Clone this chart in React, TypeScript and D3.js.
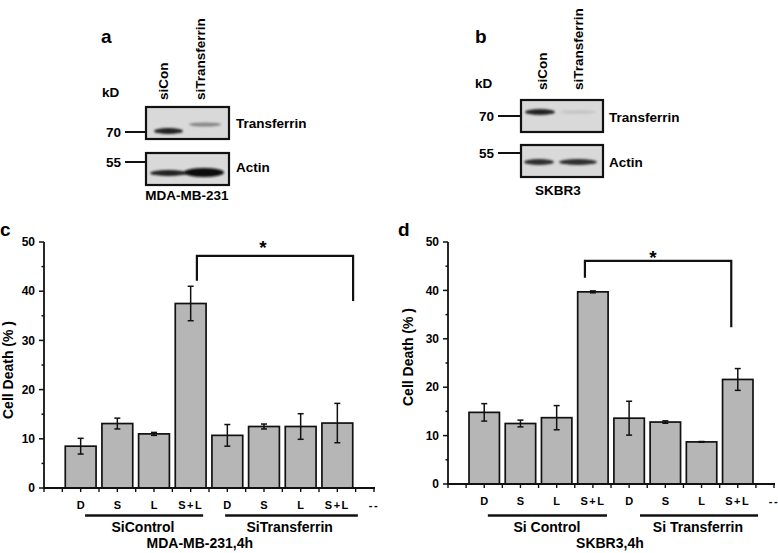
import React from "react";
import * as d3 from "d3";

// ---------- data ----------
const categories = ["D", "S", "L", "S+L", "D", "S", "L", "S+L", "--"];
const yTicks = [0, 10, 20, 30, 40, 50];
const yMinorTicks = [5, 15, 25, 35, 45];

const mdaValues = [8.5, 13.1, 11.0, 37.5, 10.7, 12.5, 12.5, 13.2];
const mdaErrors = [1.6, 1.1, 0.3, 3.5, 2.2, 0.5, 2.6, 4.0];
const skbrValues = [14.8, 12.5, 13.7, 39.7, 13.6, 12.8, 8.7, 21.6];
const skbrErrors = [1.8, 0.7, 2.5, 0.2, 3.5, 0.25, 0.08, 2.25];

const mdaGroups = ["SiControl", "SiTransferrin"];
const skbrGroups = ["Si Control", "Si Transferrin"];

const blotLanes = ["siCon", "siTransferrin"];
const blotProteins = ["Transferrin", "Actin"];
const markerKd = ["70", "55"];
// band intensities (0..1) per lane
const mdaTransferrinBands = [0.92, 0.4];
const mdaActinBands = [0.92, 1.0];
const skbrTransferrinBands = [0.9, 0.07];
const skbrActinBands = [0.85, 0.85];

const FONT = "'Liberation Sans', Arial, Helvetica, sans-serif";

type PanelCfg = {
  letter: string;
  letterX: number;
  x0: number;
  x9: number;
  yBottom: number;
  yTop: number;
  values: number[];
  errors: number[];
  groups: string[];
  groupLines: [number, number][];
  groupLabelX: number[];
  title: string;
  titleX: number;
  bracket: { l: number; r: number; top: number; lb: number; rb: number };
  starX: number;
  starY: number;
  yLabelX: number;
  yLabelY: number;
};

function BarPanel({ cfg }: { cfg: PanelCfg }) {
  const x = d3.scaleLinear().domain([0, 9]).range([cfg.x0, cfg.x9]);
  const y = d3.scaleLinear().domain([0, 50]).range([cfg.yBottom, cfg.yTop]);
  const step = x(1) - x(0);
  const bw = step * 0.84;
  const xTicks = d3.range(0, 9.01, 0.5);
  const b = cfg.bracket;
  return (
    <g fontFamily={FONT} fontWeight="bold">
      <text x={cfg.letterX} y={236} fontSize={19}>
        {cfg.letter}
      </text>
      {/* bars */}
      {cfg.values.map((v, i) => (
        <rect
          key={"b" + i}
          x={x(i + 1) - bw / 2}
          y={y(v)}
          width={bw}
          height={y(0) - y(v)}
          fill="#b6b6b6"
          stroke="#111"
          strokeWidth={1.7}
        />
      ))}
      {/* error bars */}
      {cfg.values.map((v, i) => {
        const e = cfg.errors[i];
        const cx = x(i + 1);
        return (
          <g key={"e" + i} stroke="#111" strokeWidth={1.5}>
            <line x1={cx} x2={cx} y1={y(v + e)} y2={y(v - e)} />
            <line x1={cx - 3} x2={cx + 3} y1={y(v + e)} y2={y(v + e)} />
            <line x1={cx - 3} x2={cx + 3} y1={y(v - e)} y2={y(v - e)} />
          </g>
        );
      })}
      {/* y axis */}
      <line x1={x(0)} x2={x(0)} y1={y(0)} y2={y(50)} stroke="#111" strokeWidth={1.8} />
      {yTicks.map((t) => (
        <g key={"yt" + t}>
          <line x1={x(0) - 5} x2={x(0)} y1={y(t)} y2={y(t)} stroke="#111" strokeWidth={1.5} />
          <text x={x(0) - 9} y={y(t)} dy="0.35em" textAnchor="end" fontSize={12}>
            {t}
          </text>
        </g>
      ))}
      {yMinorTicks.map((t) => (
        <line key={"ym" + t} x1={x(0) - 2.5} x2={x(0)} y1={y(t)} y2={y(t)} stroke="#111" strokeWidth={1.5} />
      ))}
      {/* x axis */}
      <line x1={x(0) - 1} x2={x(9) + 1} y1={y(0)} y2={y(0)} stroke="#111" strokeWidth={1.8} />
      {xTicks.map((t) => (
        <line key={"xt" + t} x1={x(t)} x2={x(t)} y1={y(0)} y2={y(0) + 4} stroke="#111" strokeWidth={1.4} />
      ))}
      {categories.map((c, i) => (
        <text
          key={"c" + i}
          x={x(i + 1)}
          y={y(0) + 21}
          textAnchor="middle"
          fontSize={11}
          letterSpacing={c.length > 1 ? 1.5 : 0}
        >
          {c}
        </text>
      ))}
      {/* group lines & labels */}
      {cfg.groups.map((g, i) => (
        <g key={"g" + i}>
          <line
            x1={x(cfg.groupLines[i][0])}
            x2={x(cfg.groupLines[i][1])}
            y1={515.5}
            y2={515.5}
            stroke="#111"
            strokeWidth={2.4}
          />
          <text x={x(cfg.groupLabelX[i])} y={531.5} textAnchor="middle" fontSize={14}>
            {g}
          </text>
        </g>
      ))}
      <text x={x(cfg.titleX)} y={547.5} textAnchor="middle" fontSize={14}>
        {cfg.title}
      </text>
      {/* y label */}
      <text
        transform={`translate(${cfg.yLabelX},${cfg.yLabelY}) rotate(-90)`}
        textAnchor="middle"
        fontSize={14}
      >
        Cell Death (% )
      </text>
      {/* significance bracket */}
      <path
        d={`M${x(b.l)},${y(b.lb)}V${y(b.top)}H${x(b.r)}V${y(b.rb)}`}
        fill="none"
        stroke="#111"
        strokeWidth={2.2}
      />
      <text x={x(cfg.starX)} y={cfg.starY} textAnchor="middle" fontSize={19}>
        *
      </text>
    </g>
  );
}

type BlotCfg = {
  letter: string;
  letterX: number;
  kdX: number;
  kdY: number;
  laneTextX: number[];
  laneTextY: number;
  boxX: number;
  boxW: number;
  boxY: number[];
  boxH: number;
  markerY: number[];
  markerLineX0: number;
  markerTextX: number;
  labelX: number;
  labelY: number[];
  cell: string;
  cellX: number;
  cellY: number;
  bands: { x: number; w: number; y: number; h: number; v: number }[][];
};

function Blot({ cfg, id }: { cfg: BlotCfg; id: string }) {
  const grey = d3.scaleLinear<string>().domain([0, 1]).range(["#d4d4d4", "#101010"]);
  return (
    <g fontFamily={FONT} fontWeight="bold">
      <defs>
        <filter id={"blur" + id} x="-20%" y="-100%" width="140%" height="300%">
          <feGaussianBlur stdDeviation="1.3" />
        </filter>
      </defs>
      <text x={cfg.letterX} y={43} fontSize={19}>
        {cfg.letter}
      </text>
      <text x={cfg.kdX} y={cfg.kdY} fontSize={13.5}>
        kD
      </text>
      {blotLanes.map((l, i) => (
        <text
          key={l}
          transform={`translate(${cfg.laneTextX[i]},${cfg.laneTextY}) rotate(-90)`}
          fontSize={13.5}
        >
          {l}
        </text>
      ))}
      {blotProteins.map((p, i) => (
        <g key={p}>
          <rect
            x={cfg.boxX}
            y={cfg.boxY[i]}
            width={cfg.boxW}
            height={cfg.boxH}
            fill="#d9d9d9"
            stroke="#111"
            strokeWidth={2.2}
          />
          {cfg.bands[i].map((bd, j) => (
            <ellipse
              key={j}
              cx={bd.x + bd.w / 2}
              cy={bd.y}
              rx={bd.w / 2}
              ry={bd.h / 2}
              fill={grey(bd.v)}
              filter={`url(#blur${id})`}
            />
          ))}
          <line
            x1={cfg.markerLineX0}
            x2={cfg.boxX}
            y1={cfg.markerY[i]}
            y2={cfg.markerY[i]}
            stroke="#111"
            strokeWidth={2}
          />
          <text x={cfg.markerTextX} y={cfg.markerY[i]} dy="0.36em" textAnchor="end" fontSize={13.5}>
            {markerKd[i]}
          </text>
          <text x={cfg.labelX} y={cfg.labelY[i]} fontSize={13.5}>
            {p}
          </text>
        </g>
      ))}
      <text x={cfg.cellX} y={cfg.cellY} textAnchor="middle" fontSize={13.5}>
        {cfg.cell}
      </text>
    </g>
  );
}

const panelC: PanelCfg = {
  letter: "c",
  letterX: 0,
  x0: 44,
  x9: 374,
  yBottom: 488,
  yTop: 242,
  values: mdaValues,
  errors: mdaErrors,
  groups: mdaGroups,
  groupLines: [
    [1.12, 4.34],
    [4.94, 8.56],
  ],
  groupLabelX: [2.7, 6.7],
  title: "MDA-MB-231,4h",
  titleX: 4.25,
  bracket: { l: 4.17, r: 8.43, top: 47.2, lb: 42.1, rb: 38.0 },
  starX: 5.97,
  starY: 253.5,
  yLabelX: 13,
  yLabelY: 370,
};

const panelD: PanelCfg = {
  letter: "d",
  letterX: 398,
  x0: 448,
  x9: 774,
  yBottom: 484,
  yTop: 242,
  values: skbrValues,
  errors: skbrErrors,
  groups: skbrGroups,
  groupLines: [
    [1.1, 4.39],
    [5.3, 8.56],
  ],
  groupLabelX: [2.73, 6.9],
  title: "SKBR3,4h",
  titleX: 4.47,
  bracket: { l: 3.78, r: 7.82, top: 46.1, lb: 42.6, rb: 32.4 },
  starX: 5.66,
  starY: 263.5,
  yLabelX: 413,
  yLabelY: 357,
};

const blotA: BlotCfg = {
  letter: "a",
  letterX: 101,
  kdX: 102,
  kdY: 97,
  laneTextX: [168, 205],
  laneTextY: 100,
  boxX: 146,
  boxW: 83,
  boxY: [107, 153],
  boxH: 32,
  markerY: [132, 162],
  markerLineX0: 125,
  markerTextX: 121,
  labelX: 236,
  labelY: [128, 172],
  cell: "MDA-MB-231",
  cellX: 187,
  cellY: 200,
  bands: [
    [
      { x: 154, w: 29, y: 131, h: 6, v: mdaTransferrinBands[0] },
      { x: 189, w: 32, y: 124.5, h: 4, v: mdaTransferrinBands[1] },
    ],
    [
      { x: 150, w: 37, y: 173, h: 6, v: mdaActinBands[0] },
      { x: 184, w: 40, y: 172.5, h: 9, v: mdaActinBands[1] },
    ],
  ],
};

const blotB: BlotCfg = {
  letter: "b",
  letterX: 475,
  kdX: 475,
  kdY: 88,
  laneTextX: [547, 583],
  laneTextY: 90,
  boxX: 521,
  boxW: 82,
  boxY: [100, 145],
  boxH: 32,
  markerY: [116, 153],
  markerLineX0: 498,
  markerTextX: 494,
  labelX: 609,
  labelY: [122, 167],
  cell: "SKBR3",
  cellX: 558,
  cellY: 195,
  bands: [
    [
      { x: 525, w: 30, y: 112, h: 6, v: skbrTransferrinBands[0] },
      { x: 560, w: 36, y: 112, h: 4, v: skbrTransferrinBands[1] },
    ],
    [
      { x: 524, w: 30, y: 162, h: 6, v: skbrActinBands[0] },
      { x: 559, w: 38, y: 162, h: 6, v: skbrActinBands[1] },
    ],
  ],
};

export default function App() {
  return (
    <svg
      width={778}
      height={553}
      viewBox="0 0 778 553"
      style={{ position: "absolute", left: 0, top: 0, background: "#fff" }}
    >
      <rect x={0} y={0} width={778} height={553} fill="#fff" />
      <Blot cfg={blotA} id="a" />
      <Blot cfg={blotB} id="b" />
      <BarPanel cfg={panelC} />
      <BarPanel cfg={panelD} />
    </svg>
  );
}
